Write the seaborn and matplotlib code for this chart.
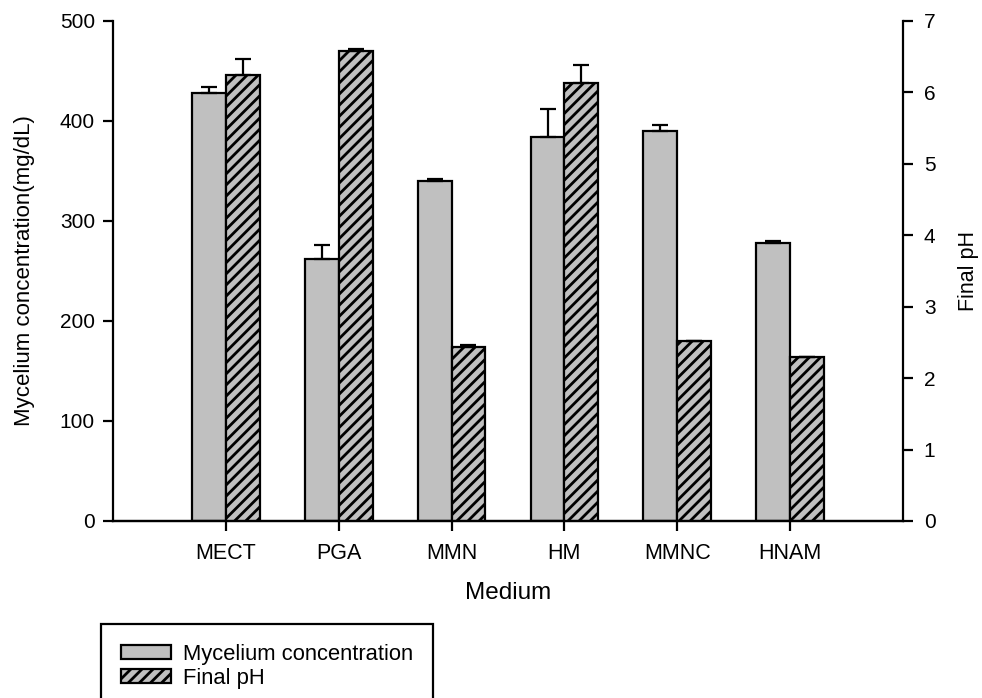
import numpy as np
import pandas as pd
import matplotlib
matplotlib.use("Agg")
import matplotlib.pyplot as plt
import seaborn as sns
from matplotlib.patches import Patch

# ---- data ----
media = ["MECT", "PGA", "MMN", "HM", "MMNC", "HNAM"]
mycelium = [428, 262, 340, 384, 390, 278]
mycelium_err = [6, 14, 2, 28, 6, 2]
final_ph = [6.25, 6.58, 2.44, 6.13, 2.52, 2.30]
final_ph_err = [0.22, 0.03, 0.03, 0.25, 0.0, 0.0]
series = ["Mycelium concentration", "Final pH"]
y1_ticks = [0, 100, 200, 300, 400, 500]
y2_ticks = [0, 1, 2, 3, 4, 5, 6, 7]

sns.set_theme(style="ticks", rc={
    "text.color": "black", "axes.labelcolor": "black",
    "xtick.color": "black", "ytick.color": "black",
    "axes.edgecolor": "black",
})
plt.rcParams["font.family"] = ["Liberation Sans", "DejaVu Sans"]
plt.rcParams["hatch.linewidth"] = 2.0
plt.rcParams["hatch.color"] = "black"

GRAY = "#c0c0c0"
LW = 1.6

fig = plt.figure(figsize=(9.82, 6.98), dpi=100)
ax1 = fig.add_axes([113 / 982, 1 - 521 / 698, 790 / 982, 500 / 698])
ax2 = ax1.twinx()

df1 = pd.DataFrame({"Medium": media, "value": mycelium, "Series": series[0]})
df2 = pd.DataFrame({"Medium": media, "value": final_ph, "Series": series[1]})
pal = {series[0]: GRAY, series[1]: GRAY}

sns.barplot(data=df1, x="Medium", y="value", hue="Series", hue_order=series,
            order=media, width=0.6, dodge=True, palette=pal, edgecolor="black",
            linewidth=LW, errorbar=None, legend=False, saturation=1, ax=ax1)
sns.barplot(data=df2, x="Medium", y="value", hue="Series", hue_order=series,
            order=media, width=0.6, dodge=True, palette=pal, edgecolor="black",
            linewidth=LW, errorbar=None, legend=False, saturation=1, ax=ax2)
for p in ax2.patches:
    p.set_hatch("///")


def centers(ax):
    xs = []
    for p in ax.patches:
        h = p.get_height()
        if np.isfinite(h):
            xs.append(p.get_x() + p.get_width() / 2)
    return sorted(xs)


x1 = centers(ax1)
x2 = centers(ax2)
ax1.errorbar(x1, mycelium, yerr=[np.zeros(len(mycelium)), mycelium_err],
             fmt="none", ecolor="black", elinewidth=LW, capsize=6,
             capthick=LW, zorder=5)
ax2.errorbar(x2, final_ph, yerr=[np.zeros(len(final_ph)), final_ph_err],
             fmt="none", ecolor="black", elinewidth=LW, capsize=6,
             capthick=LW, zorder=5)

ax1.set_ylim(0, 500)
ax2.set_ylim(0, 7)
ax1.set_yticks(y1_ticks)
ax2.set_yticks(y2_ticks)
ax1.set_xlim(-1, len(media))

for ax in (ax1, ax2):
    for s in ax.spines.values():
        s.set_linewidth(LW)
    ax.spines["top"].set_visible(False)
ax1.spines["right"].set_visible(False)
ax2.spines["left"].set_visible(False)

ax1.tick_params(axis="y", direction="out", length=7, width=LW, labelsize=15, pad=6)
ax1.tick_params(axis="x", direction="out", length=7, width=LW, labelsize=15.5, pad=9)
ax2.tick_params(axis="y", direction="out", length=7, width=LW, labelsize=15, pad=8)

ax1.set_xlabel("Medium", fontsize=17.5, labelpad=13)
ax1.set_ylabel("Mycelium concentration(mg/dL)", fontsize=16, labelpad=18)
ax2.set_ylabel("Final pH", fontsize=15.5, labelpad=16)
ax2.set_xlabel("")

handles = [
    Patch(facecolor=GRAY, edgecolor="black", linewidth=LW, label=series[0]),
    Patch(facecolor=GRAY, edgecolor="black", linewidth=LW, hatch="///", label=series[1]),
]
leg = fig.legend(handles=handles, loc="upper left",
                 bbox_to_anchor=(101 / 982, 1 - 624 / 698),
                 frameon=True, fancybox=False, edgecolor="black",
                 fontsize=15.8, handlelength=2.3, handleheight=0.6,
                 handletextpad=0.55, borderpad=0.9, labelspacing=0.15,
                 borderaxespad=0, framealpha=1)
leg.get_frame().set_linewidth(LW)

fig.savefig("out.png", dpi=100)
